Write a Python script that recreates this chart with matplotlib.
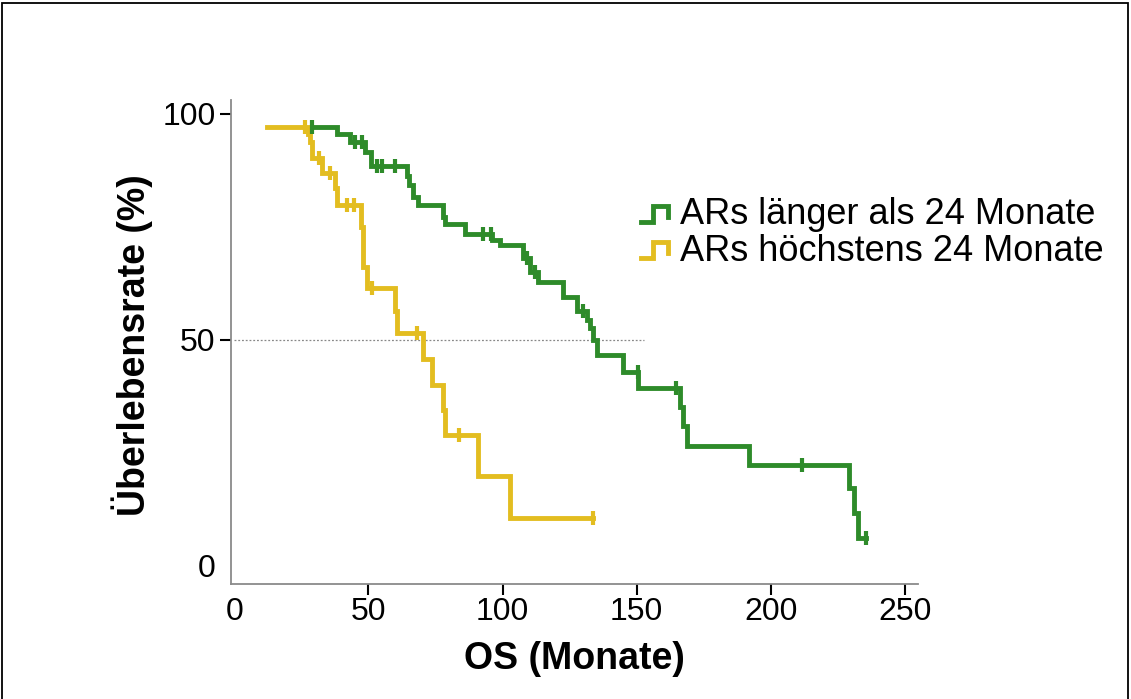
import numpy as np
import matplotlib
matplotlib.use('Agg')
import matplotlib.pyplot as plt
from matplotlib.lines import Line2D
from matplotlib.patches import Rectangle
from matplotlib.legend_handler import HandlerBase

plt.rcParams['font.family'] = ['Liberation Sans', 'DejaVu Sans']

# Kaplan-Meier Kurven (Zeit in Monaten, Überlebensrate in %)
gruen_zeit = [28.8, 38.2, 43.1, 48.7, 51.0, 64.3, 65.1, 66.6, 68.5, 77.8, 78.6, 86.0,
              96.1, 99.1, 107.6, 110.3, 113.3, 122.6, 127.8, 131.5, 132.6, 133.7, 135.2,
              145.1, 150.7, 166.2, 167.3, 168.8, 192.1, 229.4, 231.2, 232.6, 235.6]
gruen_rate = [97.2, 95.6, 93.9, 91.6, 88.5, 86.3, 84.3, 81.7, 79.9, 77.3, 75.7, 73.4,
              72.1, 71.0, 68.1, 65.1, 62.9, 59.6, 56.3, 54.4, 52.7, 50.0, 46.7,
              43.0, 39.3, 35.2, 31.0, 26.5, 22.3, 17.2, 11.7, 6.1, 6.1]
gruen_zensiert = [29.0, 45.0, 47.5, 53.1, 54.9, 59.9, 92.6, 95.6, 109.2, 112.2,
                  130.0, 150.6, 164.7, 211.6, 235.6]

gelb_zeit = [12.0, 27.6, 28.2, 28.9, 32.7, 37.5, 38.3, 47.2, 48.1, 49.5, 59.9, 60.7,
             70.5, 73.6, 77.9, 78.6, 91.0, 102.8, 133.9]
gelb_rate = [97.2, 95.6, 93.9, 90.2, 86.9, 83.6, 79.9, 75.1, 66.2, 61.4, 56.3, 51.5,
             45.7, 40.0, 34.5, 29.0, 19.8, 10.6, 10.6]
gelb_zensiert = [26.3, 31.6, 35.7, 41.9, 44.7, 51.2, 68.0, 83.9, 133.9]

labels = ['ARs länger als 24 Monate', 'ARs höchstens 24 Monate']
farben = ['#2e8b2a', '#e3bd20']
median_ende = 152.8


def stufe(zeit, rate, t):
    # Wert der Treppenkurve zum Zeitpunkt t
    idx = np.searchsorted(zeit, t, side='right') - 1
    return np.array(rate)[np.clip(idx, 0, len(rate) - 1)]


class StufenHandler(HandlerBase):
    def create_artists(self, legend, orig_handle, xdescent, ydescent, width, height, fontsize, trans):
        x0, y0 = -xdescent, -ydescent
        xs = [x0, x0 + 0.45 * width, x0 + 0.45 * width, x0 + width, x0 + width]
        ys = [y0 + 0.1 * height, y0 + 0.1 * height, y0 + 0.75 * height, y0 + 0.75 * height, y0 + 0.3 * height]
        ln = Line2D(xs, ys, color=orig_handle.get_color(), lw=3.5, solid_joinstyle='miter', transform=trans)
        return [ln]


fig = plt.figure(figsize=(11.31, 6.99), dpi=100)
ax = fig.add_axes([0.2042, 0.1645, 0.6075, 0.6925])

ax.plot([0, median_ende], [50, 50], ls=(0, (1.5, 1.5)), color='#888888', lw=0.9, zorder=1)

handles = []
for zeit, rate, zens, farbe, lab in [(gruen_zeit, gruen_rate, gruen_zensiert, farben[0], labels[0]),
                                     (gelb_zeit, gelb_rate, gelb_zensiert, farben[1], labels[1])]:
    h, = ax.step(zeit, rate, where='post', color=farbe, lw=3.5, solid_joinstyle='miter', label=lab, zorder=3)
    ax.plot(zens, stufe(zeit, rate, zens), ls='none', marker='|', ms=10, mew=3, color=farbe, zorder=4)
    handles.append(h)

ax.set_xlim(-1.3, 255)
ax.set_ylim(-4.0, 103.1)
ax.set_xticks([0, 50, 100, 150, 200, 250])
ax.set_yticks([0, 50, 100])
ax.tick_params(axis='both', labelsize=23, length=8, width=1.5, color='black')
ax.tick_params(axis='x', pad=1)
ax.tick_params(axis='y', pad=3)
ax.xaxis.get_major_ticks()[0].tick1line.set_visible(False)
ax.yaxis.get_major_ticks()[0].tick1line.set_visible(False)

for s in ['top', 'right']:
    ax.spines[s].set_visible(False)
for s in ['left', 'bottom']:
    ax.spines[s].set_color('#8a8a8a')
    ax.spines[s].set_linewidth(1.3)

ax.set_xlabel('OS (Monate)', fontsize=27, fontweight='bold')
ax.set_ylabel('Überlebensrate (%)', fontsize=27, fontweight='bold')
ax.xaxis.set_label_coords(0.50, -0.118)
ax.yaxis.set_label_coords(-0.113, 0.494)

fig.legend(handles, labels, handler_map={Line2D: StufenHandler()}, loc='upper left',
           bbox_to_anchor=(0.538, 0.764), frameon=False, fontsize=26,
           handlelength=0.75, handletextpad=0.32, labelspacing=0.03)

fig.patches.append(Rectangle((0.002, -0.01), 0.995, 1.005, transform=fig.transFigure,
                             fill=False, lw=1.3, color='black'))

fig.savefig('out.png', dpi=100)
